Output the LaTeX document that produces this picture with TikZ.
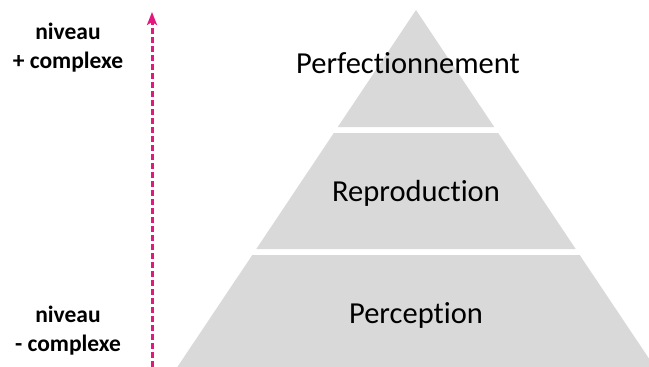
\documentclass[tikz,border=0pt]{standalone}
\usepackage{fontspec}
\setmainfont[Ligatures=NoCommon]{Carlito}
\usetikzlibrary{arrows.meta}
\definecolor{tiergray}{RGB}{217,217,217}
\definecolor{levelpink}{RGB}{226,24,127}
\begin{document}
\begin{tikzpicture}[x=1pt,y=-1pt,
  tier/.style={fill=tiergray},
  tierlabel/.style={font=\fontsize{30.5}{36}\selectfont, anchor=base, inner sep=0pt},
  sidelabel/.style={font=\bfseries\fontsize{23.5}{29}\selectfont, anchor=base, inner sep=0pt},
  levelarrow/.style={draw=levelpink, line width=3pt, dash pattern=on 6pt off 3pt,
    -{Stealth[length=13pt,width=10pt,inset=3pt]}}]
\useasboundingbox (0,0) rectangle (649,367);
\begin{scope}
\clip (0,0) rectangle (649,367);
\fill[tier] (416,10) -- (494.2,127) -- (337.8,127) -- cycle;
\fill[tier] (333.8,133) -- (498.2,133) -- (575.7,249) -- (256.3,249) -- cycle;
\fill[tier] (252.3,255) -- (579.7,255) -- (660,375) -- (172,375) -- cycle;
\end{scope}
\node[tierlabel] (perf) at (408,73) {Perfectionnement};
\node[tierlabel] (repro) at (416,201) {Reproduction};
\node[tierlabel] (perc) at (416,323) {Perception};
\node[sidelabel] (topa) at (68,39.5) {niveau};
\node[sidelabel] (topb) at (68,68.5) {+ complexe};
\node[sidelabel] (bota) at (68,322.7) {niveau};
\node[sidelabel] (botb) at (68,351) {- complexe};
\coordinate (abot) at (152,367);
\coordinate (atop) at (152,12);
\draw[levelarrow] (abot) -- (atop);
\end{tikzpicture}
\end{document}
